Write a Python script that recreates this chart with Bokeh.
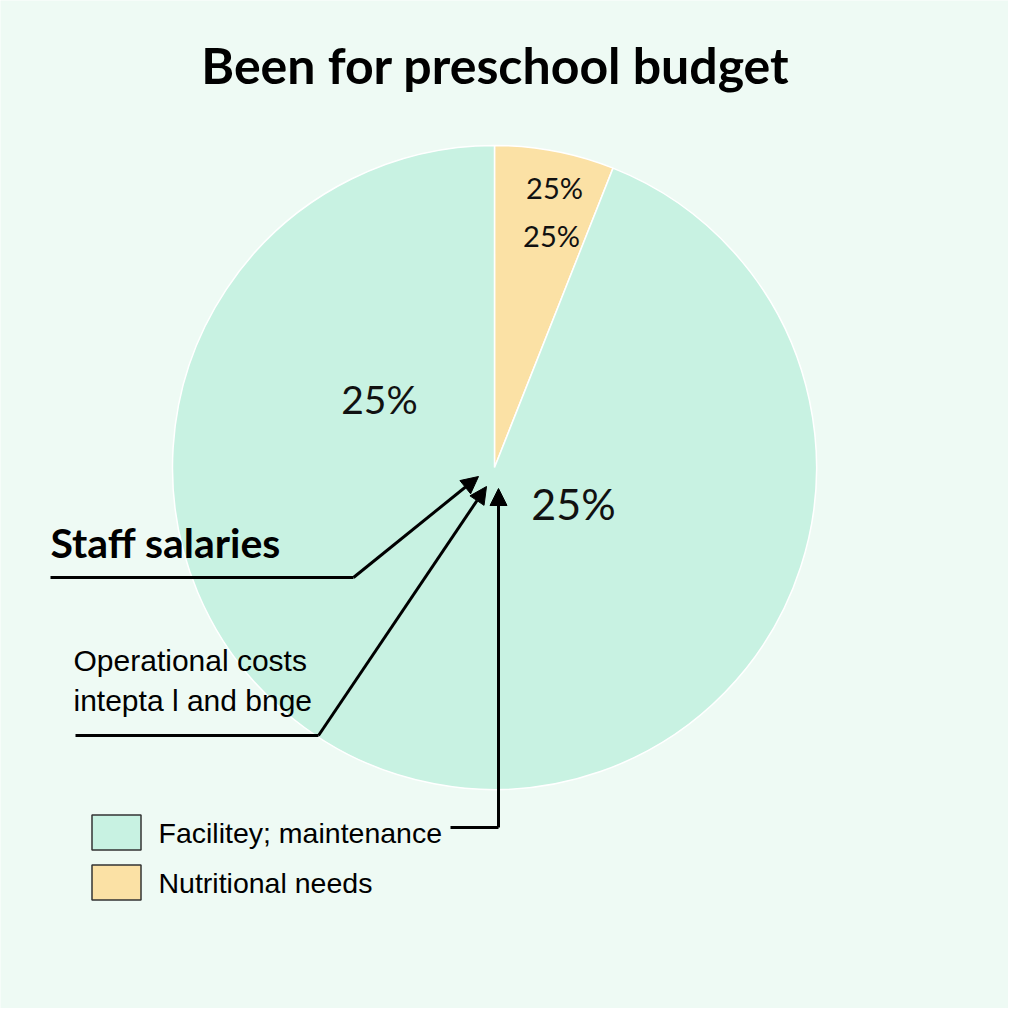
import math
from bokeh.plotting import figure
from bokeh.models import Range1d, Arrow, NormalHead
from bokeh.core.properties import value
from bokeh.embed import file_html
from bokeh.resources import INLINE

# ---- data ----
title_text = "Been for preschool budget"
categories = ["Facilitey; maintenance", "Nutritional needs"]
shares = [94, 6]
colors = ["#c8f2e2", "#fbe1a5"]
pie_order = [1, 0]  # nutritional first from 12 o'clock, clockwise
slice_labels = ["25%", "25%", "25%", "25%"]
callouts = ["Staff salaries", "Operational costs", "intepta l and bnge"]

BG = "#eefaf4"
W = H = 1008

p = figure(width=W, height=H, output_backend="svg", toolbar_location=None,
           x_range=Range1d(0, 1008), y_range=Range1d(0, 1008),
           min_border=0, background_fill_color=BG, border_fill_color=BG)
p.axis.visible = False
p.grid.visible = False
p.outline_line_color = None

def Y(py):
    return 1008 - py

# ---- pie ----
cx, cy, r = 494, Y(467), 322
total = float(sum(shares))
start = math.pi / 2
for idx in pie_order:
    sweep = 2 * math.pi * shares[idx] / total
    end = start - sweep
    p.wedge(x=cx, y=cy, radius=r, start_angle=end, end_angle=start,
            fill_color=colors[idx], line_color="white", line_width=1.5)
    start = end

# ---- slice labels ----
lab_pos = [(554, 187, 29), (551, 235, 29), (379, 398, 39), (573, 503, 43)]
for t, (x, y, s) in zip(slice_labels, lab_pos):
    p.text(x=[x], y=[Y(y)], text=[t], text_align="center", text_baseline="middle",
           text_font=value("Lato"), text_font_size=f"{s}px", text_color="#111111")

# ---- title ----
p.text(x=[495], y=[Y(64)], text=[title_text], text_align="center", text_baseline="middle",
       text_font=value("Lato"), text_font_style="bold", text_font_size="50px",
       text_color="#000000")

# ---- callout texts ----
p.text(x=[50], y=[Y(542)], text=[callouts[0]], text_align="left", text_baseline="middle",
       text_font=value("Lato"), text_font_style="bold", text_font_size="41px",
       text_color="#000000")
p.text(x=[73], y=[Y(660)], text=[callouts[1]], text_align="left", text_baseline="middle",
       text_font=value("Liberation Sans"), text_font_size="30px", text_color="#000000")
p.text(x=[73], y=[Y(700)], text=[callouts[2]], text_align="left", text_baseline="middle",
       text_font=value("Liberation Sans"), text_font_size="30px", text_color="#000000")

# ---- leader lines and arrows ----
lw = 3
p.line(x=[50, 353], y=[Y(577), Y(577)], line_color="black", line_width=lw)
p.add_layout(Arrow(end=NormalHead(size=17, fill_color="black", line_color="black"),
                   x_start=353, y_start=Y(577), x_end=478, y_end=Y(476),
                   line_color="black", line_width=lw))
p.line(x=[75, 318], y=[Y(735), Y(735)], line_color="black", line_width=lw)
p.add_layout(Arrow(end=NormalHead(size=17, fill_color="black", line_color="black"),
                   x_start=318, y_start=Y(735), x_end=486, y_end=Y(486),
                   line_color="black", line_width=lw))
p.line(x=[450, 498], y=[Y(827), Y(827)], line_color="black", line_width=lw)
p.add_layout(Arrow(end=NormalHead(size=17, fill_color="black", line_color="black"),
                   x_start=498, y_start=Y(827), x_end=498, y_end=Y(488),
                   line_color="black", line_width=lw))

# ---- legend ----
leg_y = [832, 882]
for cat, col, ly in zip(categories, colors, leg_y):
    p.rect(x=[116], y=[Y(ly)], width=49, height=35, fill_color=col,
           line_color="#333333", line_width=1.5)
    p.text(x=[158], y=[Y(ly)], text=[cat], text_align="left", text_baseline="middle",
           text_font=value("Liberation Sans"), text_font_size="28.5px", text_color="#000000")

open("out.html", "w").write(file_html(p, INLINE))
